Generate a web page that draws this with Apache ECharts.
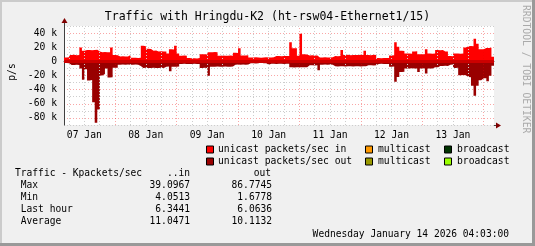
<!DOCTYPE html>
<html><head><meta charset="utf-8">
<script src="https://cdn.jsdelivr.net/npm/echarts@6/dist/echarts.min.js"></script>
<style>html,body{margin:0;padding:0;background:#F0F0F0}#c{width:535px;height:246px}</style>
</head><body><div id="c"></div>
<script>
// ---- data ----
const startHour = 4.05;            // graph starts Jan 07 04:03
const spanHours = 168;             // one week
const dayLabels = ['07 Jan', '08 Jan', '09 Jan', '10 Jan', '11 Jan', '12 Jan', '13 Jan'];
const yLabelValues = [40, 20, 0, -20, -40, -60, -80];
// unicast packets/sec in (k), hourly
const inPps = [
  5.6, 5.8, 9, 9.2, 8.8, 9, 19.6, 15, 16, 16.2, 15.8, 16, 16.4, 14, 13, 13.2, 12.8, 13, 19.6, 9,
  8.8, 7, 7.2, 6.8, 7, 9, 5, 5.2, 4.8, 5, 22, 21.5, 18, 17.6, 15, 15.2, 14, 14.2, 13.8, 14,
  11, 17, 16.8, 22, 11, 8, 8.2, 7.8, 4.7, 4.5, 4.3, 4.1, 4.6, 10, 10.2, 9.8, 13, 12.8, 13.2, 13,
  8, 8.2, 7.8, 8, 8.3, 7.9, 12, 11.8, 18.6, 8.4, 8.2, 8.5, 5.6, 5.4, 5.8, 5.6, 5.2, 5.5, 5.7, 5.3,
  5.6, 5.8, 7.5, 7.7, 7.3, 7.5, 7.6, 7.4, 27, 18.7, 18.5, 8, 39.1, 10, 9.8, 8.4, 8.6, 8.2, 8.4, 5.6,
  5.4, 5.8, 5.5, 5.6, 5.7, 7.5, 7.3, 7.6, 16, 9, 9.2, 8.8, 9.1, 9, 8.9, 9.2, 9, 15, 9, 8.8,
  9.2, 9, 4.7, 4.5, 4.8, 4.6, 4.7, 8.4, 8.6, 27, 20.5, 15, 14.8, 11, 11.2, 10.8, 14, 14.2, 10, 10.2,
  9.9, 17, 11, 10.8, 11.2, 16, 15.8, 16.2, 14, 13.8, 7.5, 7.3, 11, 11.2, 10.8, 11, 19.6, 21.5, 21.8, 21.2,
  32, 25, 17, 17.2, 19, 18.8, 19.2, 6.34
];
// unicast packets/sec out (k), hourly
const outPps = [
  2.3, 2.5, 5, 5.2, 4.8, 5, 10, 26, 11, 27, 26.5, 58, 86.77, 68, 20, 18, 10, 23, 22.5, 9,
  9.2, 4.7, 4.5, 4.8, 4.6, 4.7, 4.9, 4.5, 4.7, 6.5, 9.3, 9.1, 9.5, 9.3, 9.2, 9.4, 9.3, 9.1, 9.3, 7.5,
  7.3, 14, 7.5, 7.7, 7.3, 3.7, 3.5, 3.8, 3.6, 3.7, 3.4, 3.8, 3.7, 9.3, 9.1, 9.4, 20.5, 7.5, 7.7, 7.3,
  7.5, 7.6, 7.4, 7.5, 7.7, 7.3, 4.7, 4.5, 4.8, 4.6, 4.7, 4.5, 2.8, 2.6, 2.9, 2.7, 1.68, 2.6, 2.8, 4.7,
  3.5, 3.3, 3.6, 3.4, 3.5, 3.7, 3.3, 3.5, 8.4, 8.6, 8.2, 8.4, 8.5, 8.3, 8.4, 5.6, 5.4, 5.8, 5.6, 12.6,
  4.7, 4.5, 4.8, 4.6, 4.7, 7, 7.2, 6.8, 7, 7.1, 6.9, 7, 7.2, 6.8, 7, 7.1, 6.9, 7, 5.6, 5.4,
  5.8, 5.6, 3.7, 3.5, 3.8, 3.6, 3.7, 7.5, 7.3, 29, 22, 15, 14.8, 10, 10.2, 9.8, 10, 10.1, 15, 10,
  9.9, 17, 10, 10.2, 8.4, 8.6, 6.5, 6.7, 6.3, 6.5, 4.7, 4.5, 9.3, 9.1, 19.6, 19.4, 19.8, 22, 22.3, 34.5,
  48.5, 34.5, 26.6, 24, 23.8, 28, 20.5, 6.06
];
const legendRows = [
  ['unicast packets/sec in', 'multicast', 'broadcast'],
  ['unicast packets/sec out', 'multicast', 'broadcast']
];
const legendColors = [
  ['#FF0000', '#FF9900', '#003300'],
  ['#990000', '#999900', '#99FF00']
];
const statHeader = ['Traffic - Kpackets/sec', '..in', 'out'];
const statNames = ['Max', 'Min', 'Last hour', 'Average'];
const statIn = ['39.0967', '4.0513', '6.3441', '11.0471'];
const statOut = ['86.7745', '1.6778', '6.0636', '10.1132'];
const titleText = 'Traffic with Hringdu-K2 (ht-rsw04-Ethernet1/15)';
const dateText = 'Wednesday January 14 2026 04:03:00';

// ---- build ----
const FONT = 'DejaVu Sans Mono';
const toSeries = (arr, sign) => {
  const d = arr.map((v, i) => [i, sign * v]);
  d.push([arr.length, sign * arr[arr.length - 1]]);
  return d;
};
const minorX = [], majorX = [];
for (let h = 6; h < startHour + spanHours; h += 6) {
  const off = h - startHour;
  if (off <= 0 || off >= spanHours) continue;
  (h % 24 === 0 ? majorX : minorX).push(off);
}
const dash = [1, 2];
const GRID_GRAY = '#CDCDCD', GRID_RED = 'rgba(238,0,0,0.35)';
const gridMark = {
  silent: true, symbol: 'none', label: { show: false },
  data: [
    ...minorX.map(x => ({ xAxis: x, lineStyle: { color: GRID_GRAY, type: dash, width: 1 } })),
    ...majorX.map(x => ({ xAxis: x, lineStyle: { color: GRID_RED, type: dash, width: 1 } }))
  ]
};

const chart = echarts.init(document.getElementById('c'), null, { renderer: 'canvas' });

const G = { left: 64, top: 26, width: 430, height: 99 };
const graphics = [];
// border shading
graphics.push({ type: 'rect', shape: { x: 0, y: 0, width: 535, height: 2 }, style: { fill: '#CBCBCB' }, silent: true });
graphics.push({ type: 'rect', shape: { x: 0, y: 0, width: 2, height: 246 }, style: { fill: '#CBCBCB' }, silent: true });
graphics.push({ type: 'rect', shape: { x: 0, y: 243, width: 535, height: 3 }, style: { fill: '#999999' }, silent: true });
graphics.push({ type: 'rect', shape: { x: 532, y: 0, width: 3, height: 246 }, style: { fill: '#999999' }, silent: true });
// axis arrows
const yx = G.left, yTop = G.top, xy = G.top + G.height, xRight = G.left + G.width;
graphics.push({ type: 'line', shape: { x1: yx + 0.5, y1: yTop, x2: yx + 0.5, y2: yTop - 4 }, style: { stroke: '#404040', lineWidth: 1 }, z: 100 });
graphics.push({ type: 'polygon', shape: { points: [[yx - 2.5, yTop - 3], [yx + 3.5, yTop - 3], [yx + 0.5, yTop - 8]] }, style: { fill: '#800000' }, z: 100 });
graphics.push({ type: 'line', shape: { x1: xRight, y1: xy + 0.5, x2: xRight + 3, y2: xy + 0.5 }, style: { stroke: '#404040', lineWidth: 1 }, z: 100 });
graphics.push({ type: 'polygon', shape: { points: [[xRight + 2, xy - 2.5], [xRight + 2, xy + 3.5], [xRight + 7, xy + 0.5]] }, style: { fill: '#800000' }, z: 100 });
// title
graphics.push({ type: 'text', x: 267.5, y: 17, style: { text: titleText, font: `11.5px "${FONT}"`, fill: '#000', align: 'center', verticalAlign: 'middle' } });
// y axis name
graphics.push({ type: 'text', x: 12, y: 72, rotation: Math.PI / 2, style: { text: 'p/s', font: `9.7px "${FONT}"`, fill: '#000', align: 'center', verticalAlign: 'middle' } });
// watermark
graphics.push({ type: 'text', x: 526, y: 5, rotation: -Math.PI / 2, style: { text: 'RRDTOOL / TOBI OETIKER', font: `9.7px "${FONT}"`, fill: '#AAAAAA', align: 'left', verticalAlign: 'middle' } });
// legend
const legX = [[206, 218], [365, 378], [444, 457]];
const legY = [149.5, 161.5];
legendRows.forEach((row, r) => row.forEach((t, c) => {
  graphics.push({ type: 'rect', shape: { x: legX[c][0] + 0.5, y: legY[r] - 3.5, width: 7, height: 7 }, style: { fill: legendColors[r][c], stroke: '#000', lineWidth: 1 } });
  graphics.push({ type: 'text', x: legX[c][1], y: legY[r], style: { text: t, font: `9.7px "${FONT}"`, fill: '#000', align: 'left', verticalAlign: 'middle' } });
}));
// stats
const sf = `9.6px "${FONT}"`;
graphics.push({ type: 'text', x: 15, y: 173.5, style: { text: statHeader[0], font: sf, fill: '#000', verticalAlign: 'middle' } });
graphics.push({ type: 'text', x: 190, y: 173.5, style: { text: statHeader[1], font: sf, fill: '#000', align: 'right', verticalAlign: 'middle' } });
graphics.push({ type: 'text', x: 271, y: 173.5, style: { text: statHeader[2], font: sf, fill: '#000', align: 'right', verticalAlign: 'middle' } });
statNames.forEach((n, k) => {
  const y = 185.7 + k * 12;
  graphics.push({ type: 'text', x: 15, y, style: { text: ' ' + n, font: sf, fill: '#000', verticalAlign: 'middle' } });
  graphics.push({ type: 'text', x: 190, y, style: { text: statIn[k], font: sf, fill: '#000', align: 'right', verticalAlign: 'middle' } });
  graphics.push({ type: 'text', x: 272, y, style: { text: statOut[k], font: sf, fill: '#000', align: 'right', verticalAlign: 'middle' } });
});
graphics.push({ type: 'text', x: 509, y: 234, style: { text: dateText, font: sf, fill: '#000', align: 'right', verticalAlign: 'middle' } });

chart.setOption({
  animation: false,
  backgroundColor: '#F0F0F0',
  grid: { left: G.left, top: G.top, width: G.width, height: G.height, show: true, backgroundColor: '#FFFFFF', borderWidth: 0 },
  xAxis: {
    type: 'value', min: 0, max: spanHours,
    axisLine: { show: true, lineStyle: { color: '#404040', width: 1 } },
    axisTick: { show: false },
    splitLine: { show: false },
    axisLabel: {
      customValues: dayLabels.map((_, d) => d * 24 + 12 - startHour),
      formatter: v => dayLabels[Math.round((v + startHour - 12) / 24)] || '',
      fontFamily: FONT, fontSize: 9.7, color: '#000', margin: 5
    }
  },
  yAxis: {
    type: 'value', min: -90, max: 50, interval: 10,
    axisLine: { show: true, lineStyle: { color: '#404040', width: 1 } },
    axisTick: { show: false },
    splitLine: { show: true, lineStyle: { color: [GRID_GRAY, GRID_RED], type: dash, width: 1 } },
    axisLabel: {
      formatter: v => yLabelValues.includes(v) ? (v === 0 ? '0' : v + ' k') : '',
      fontFamily: FONT, fontSize: 9.7, color: '#000', margin: 7
    }
  },
  series: [
    { type: 'line', data: [], z: 1, markLine: gridMark, silent: true },
    { name: 'in', type: 'line', step: 'end', data: toSeries(inPps, 1), showSymbol: false, symbol: 'none',
      lineStyle: { width: 0 }, areaStyle: { color: '#FF0000', opacity: 1 }, z: 2 },
    { name: 'out', type: 'line', step: 'end', data: toSeries(outPps, -1), showSymbol: false, symbol: 'none',
      lineStyle: { width: 0 }, areaStyle: { color: '#990000', opacity: 1 }, z: 3,
      markLine: { silent: true, symbol: 'none', label: { show: false }, data: [{ yAxis: 0 }], lineStyle: { color: '#CC0000', width: 3, type: 'solid' } } }
  ],
  graphic: graphics
});
</script></body></html>
